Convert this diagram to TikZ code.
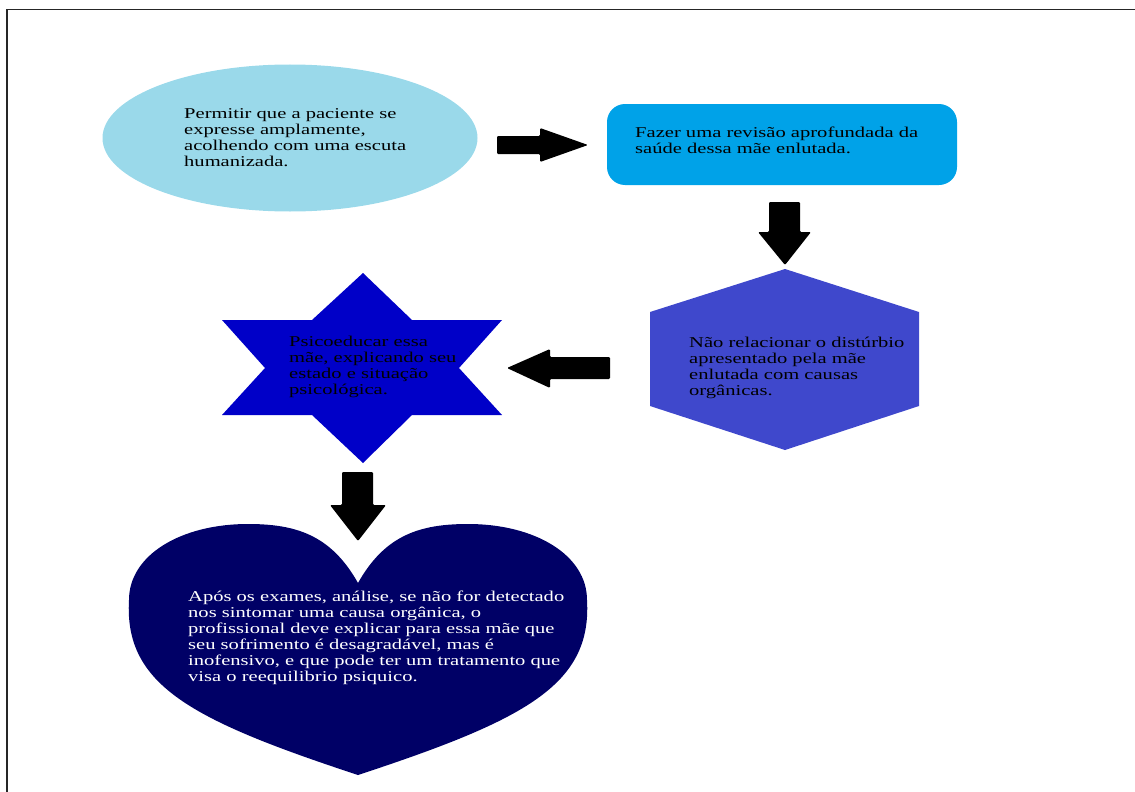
\documentclass[tikz,border=0pt]{standalone}
\usepackage{fontspec}
\setmainfont{Liberation Serif}[FakeStretch=1.37]
\usetikzlibrary{shapes.geometric}
\definecolor{cEll}{RGB}{154,217,234}
\definecolor{cRect}{RGB}{0,162,232}
\definecolor{cHex}{RGB}{63,72,204}
\definecolor{cStar}{RGB}{0,0,200}
\definecolor{cHeart}{RGB}{0,0,102}
\begin{document}
\begin{tikzpicture}[x=1pt,y=-1pt,
  txt/.style={anchor=north west, inner sep=0pt, align=left, font=\fontsize{15}{16}\selectfont},
  blockarrow/.style={fill=black, rounded corners=1.2pt},
  frameline/.style={line width=1.2pt, black!85}]
\useasboundingbox (0,0) rectangle (1135,792);
% frame
\draw[frameline] (7,792) -- (7,9.5) -- (1135,9.5);
% shapes
\node[ellipse, fill=cEll, minimum width=375pt, minimum height=147pt, inner sep=0pt] (e1) at (290,138) {};
\node[rectangle, rounded corners=18pt, fill=cRect, minimum width=350pt, minimum height=81pt, inner sep=0pt] (r1) at (782,144.5) {};
\fill[cHex] (785,269) -- (919,312) -- (919,406) -- (785,450) -- (650,406) -- (650,312) -- cycle;
\fill[cStar] (363,273) -- (412,320) -- (502,320) -- (459,368) -- (502,415) -- (412,415) -- (363,463) -- (312,415) -- (222,415) -- (265,368) -- (222,320) -- (312,320) -- cycle;
\fill[cHeart] (358,583) .. controls (385,535) and (420,524) .. (468,524)
  .. controls (535,524) and (587,555) .. (587,600)
  .. controls (592,685) and (525,720) .. (358,775)
  .. controls (191,720) and (124,685) .. (129,600)
  .. controls (129,555) and (181,524) .. (248,524)
  .. controls (296,524) and (331,535) .. (358,583) -- cycle;
% block arrows
\fill[blockarrow] (497,136) -- (540,136) -- (540,128) -- (588,145) -- (540,162) -- (540,154) -- (497,154) -- cycle;
\fill[blockarrow] (769,202) -- (800,202) -- (800,232) -- (811,232) -- (785,265) -- (758,232) -- (769,232) -- cycle;
\fill[blockarrow] (610,357) -- (550,357) -- (550,349) -- (507,368) -- (550,388) -- (550,379) -- (610,379) -- cycle;
\fill[blockarrow] (342,472) -- (373,472) -- (373,505) -- (386,505) -- (358,541) -- (330,505) -- (342,505) -- cycle;
% texts
\node[txt] (t1) at (184,108) {Permitir que a paciente se\\expresse amplamente,\\acolhendo com uma escuta\\humanizada.};
\node[txt] (t2) at (635,127) {Fazer uma revisão aprofundada da\\saúde dessa mãe enlutada.};
\node[txt] (t3) at (689,337) {Não relacionar o distúrbio\\apresentado pela mãe\\enlutada com causas\\orgânicas.};
\node[txt] (t4) at (289,336) {Psicoeducar essa\\mãe, explicando seu\\estado e situação\\psicológica.};
\node[txt, text=white] (t5) at (188,591) {Após os exames, análise, se não for detectado\\nos sintomar uma causa orgânica, o\\profissional deve explicar para essa mãe que\\seu sofrimento é desagradável, mas é\\inofensivo, e que pode ter um tratamento que\\visa o reequilibrio psiquico.};
\end{tikzpicture}
\end{document}
